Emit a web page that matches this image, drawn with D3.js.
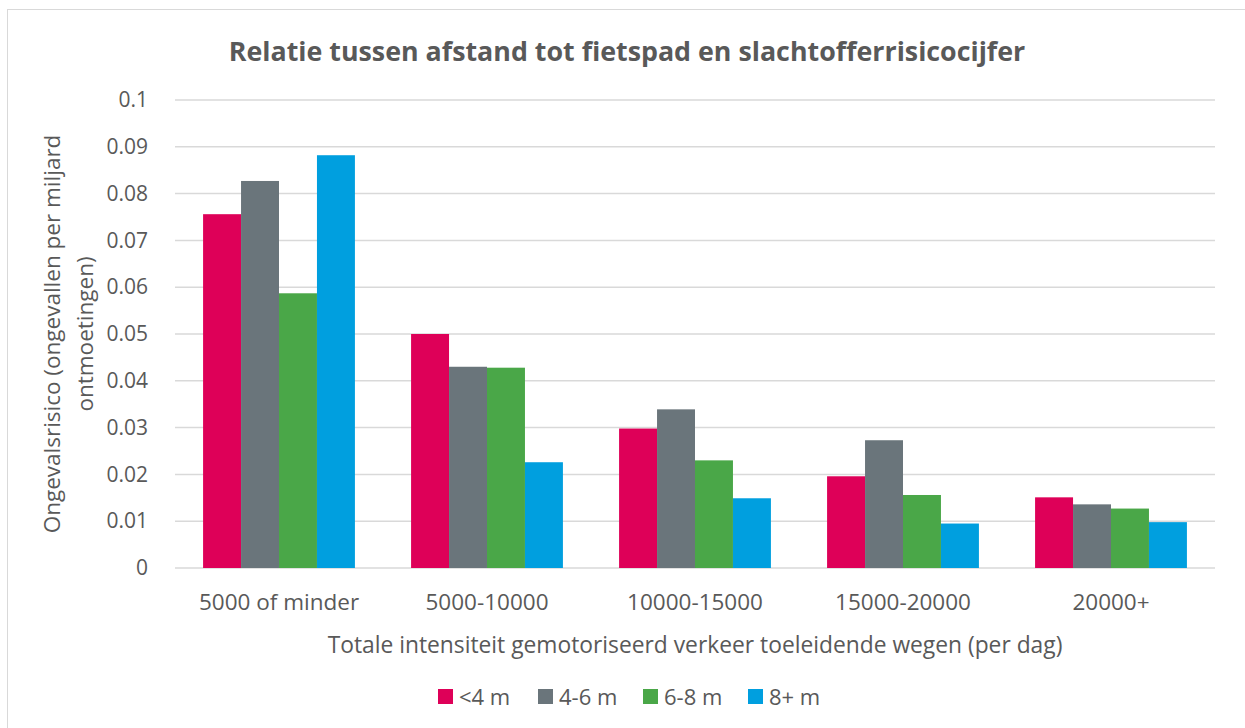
<!DOCTYPE html>
<html>
<head>
<meta charset="utf-8">
<script src="https://cdn.jsdelivr.net/npm/d3@7"></script>
<style>
  body { margin: 0; background: #fff; }
  svg { display: block; font-family: "Open Sans", "Noto Sans", sans-serif; }
</style>
</head>
<body>
<svg width="1245" height="728"></svg>
<script>
// data
const categories = ["5000 of minder", "5000-10000", "10000-15000", "15000-20000", "20000+"];
const seriesNames = ["<4 m", "4-6 m", "6-8 m", "8+ m"];
const under4 = [0.0756, 0.0500, 0.0298, 0.0196, 0.0151];
const from4to6 = [0.0827, 0.0430, 0.0339, 0.0273, 0.0136];
const from6to8 = [0.0587, 0.0428, 0.0230, 0.0156, 0.0127];
const over8 = [0.0882, 0.0226, 0.0149, 0.0095, 0.0098];
const yTicks = [0, 0.01, 0.02, 0.03, 0.04, 0.05, 0.06, 0.07, 0.08, 0.09, 0.1];

const seriesValues = [under4, from4to6, from6to8, over8];
const colors = ["#DE0058", "#6A757B", "#4AA748", "#009FDF"];
const textColor = "#595959";

const svg = d3.select("svg");

// chart frame
svg.append("rect")
  .attr("x", 7.5).attr("y", 9.5)
  .attr("width", 1260).attr("height", 740)
  .attr("fill", "#fff")
  .attr("stroke", "#d9d9d9")
  .attr("stroke-width", 1);

const margin = { left: 175, right: 1215, top: 100, bottom: 568 };

const x = d3.scaleBand()
  .domain(categories)
  .range([margin.left, margin.right])
  .paddingInner(0.27)
  .paddingOuter(0.135);

const xSub = d3.scaleBand()
  .domain(seriesNames)
  .range([0, x.bandwidth()]);

const y = d3.scaleLinear()
  .domain([0, 0.1])
  .range([margin.bottom, margin.top]);

// gridlines
svg.append("g")
  .selectAll("line")
  .data(yTicks)
  .join("line")
  .attr("x1", margin.left)
  .attr("x2", margin.right)
  .attr("y1", d => y(d))
  .attr("y2", d => y(d))
  .attr("stroke", "#d9d9d9")
  .attr("stroke-width", 1.5);

// y axis labels
const yAxis = svg.append("g")
  .attr("transform", `translate(${margin.left - 27},0)`)
  .call(d3.axisLeft(y).tickValues(yTicks).tickSize(0).tickPadding(0).tickFormat(d => d3.format("")(+d.toFixed(2))));
yAxis.select(".domain").remove();
yAxis.selectAll("text")
  .attr("fill", textColor)
  .attr("font-size", 21)
  .attr("font-family", "Open Sans, sans-serif");

// bars
const groups = svg.append("g")
  .selectAll("g")
  .data(categories)
  .join("g")
  .attr("transform", d => `translate(${x(d)},0)`);

groups.selectAll("rect")
  .data((d, i) => seriesNames.map((s, j) => ({ s, v: seriesValues[j][i], c: colors[j] })))
  .join("rect")
  .attr("x", d => xSub(d.s))
  .attr("width", xSub.bandwidth())
  .attr("y", d => y(d.v))
  .attr("height", d => y(0) - y(d.v))
  .attr("fill", d => d.c);

// x category labels
const xAxis = svg.append("g")
  .attr("transform", `translate(0,${margin.bottom + 22})`)
  .call(d3.axisBottom(x).tickSize(0).tickPadding(0));
xAxis.select(".domain").remove();
xAxis.selectAll("text")
  .attr("fill", textColor)
  .attr("font-size", 22.5)
  .attr("dy", "0.9em")
  .attr("font-family", "Open Sans, sans-serif");

// title
svg.append("text")
  .attr("x", 627)
  .attr("y", 61)
  .attr("text-anchor", "middle")
  .attr("font-size", 26.8)
  .attr("font-weight", "bold")
  .attr("fill", textColor)
  .text("Relatie tussen afstand tot fietspad en slachtofferrisicocijfer");

// x axis title
svg.append("text")
  .attr("x", 695)
  .attr("y", 653)
  .attr("text-anchor", "middle")
  .attr("font-size", 22.8)
  .attr("fill", textColor)
  .text("Totale intensiteit gemotoriseerd verkeer toeleidende wegen (per dag)");

// y axis title (two lines)
const yTitle = svg.append("text")
  .attr("transform", `translate(0,${(margin.top + margin.bottom) / 2}) rotate(-90)`)
  .attr("text-anchor", "middle")
  .attr("font-size", 22.5)
  .attr("fill", textColor);
yTitle.append("tspan").attr("x", 0).attr("y", 60).text("Ongevalsrisico (ongevallen per miljard");
yTitle.append("tspan").attr("x", 0).attr("y", 93).text("ontmoetingen)");

// legend
const legendX = [438, 538, 643, 748];
const legend = svg.append("g")
  .selectAll("g")
  .data(seriesNames)
  .join("g")
  .attr("transform", (d, i) => `translate(${legendX[i]},689)`);
legend.append("rect")
  .attr("width", 15).attr("height", 15)
  .attr("fill", (d, i) => colors[i]);
legend.append("text")
  .attr("x", 21)
  .attr("y", 16)
  .attr("font-size", 22)
  .attr("fill", textColor)
  .text(d => d);
</script>
</body>
</html>
